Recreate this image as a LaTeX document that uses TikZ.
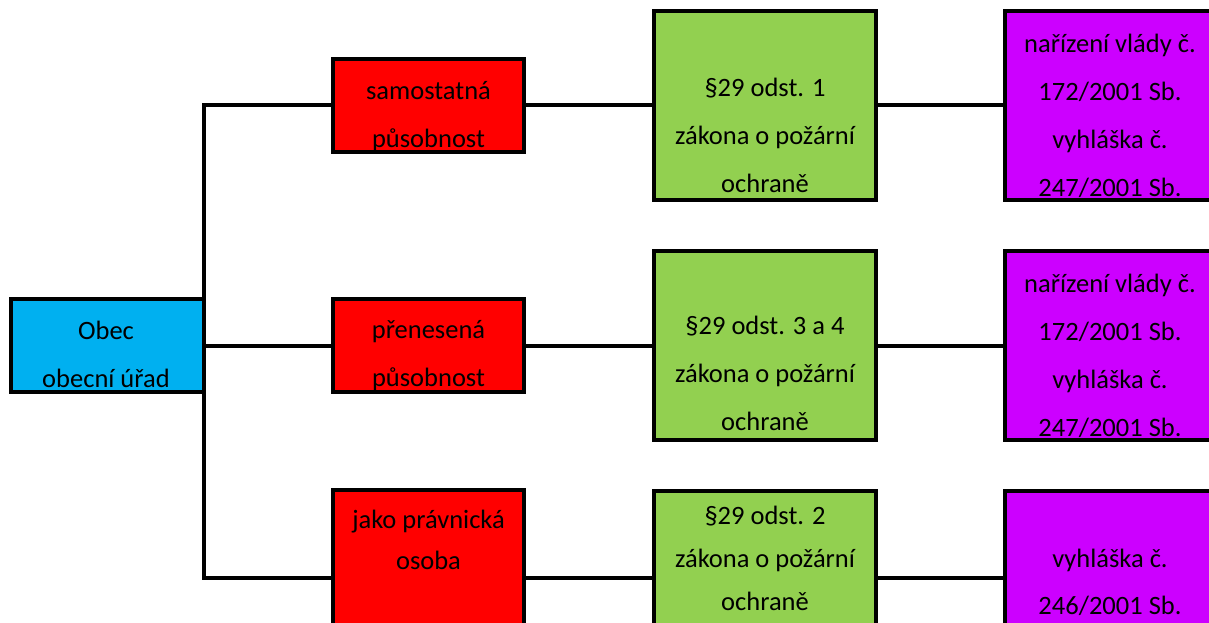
\documentclass[tikz,border=0pt]{standalone}
\usepackage{fontspec}
\setmainfont{Carlito}
\definecolor{cblue}{HTML}{00B0F0}
\definecolor{cred}{HTML}{FF0000}
\definecolor{cgreen}{HTML}{92D050}
\definecolor{cpurple}{HTML}{CC00FF}
\begin{document}
\begin{tikzpicture}[x=1pt,y=-1pt,
  box/.style={draw=black,line width=4pt,rectangle,inner sep=0pt,anchor=center},
  conn/.style={draw=black,line width=4pt,line join=miter},
  txt/.style={align=center,inner sep=0pt,anchor=center,font=\fontsize{26.5}{48}\selectfont}]
\useasboundingbox (0,0) rectangle (1209,623);
\clip (0,0) rectangle (1209,623);
\fill[white] (0,0) rectangle (1209,623);
% boxes
\node[box,fill=cblue,outer sep=0pt,minimum width=193pt,minimum height=93pt] (b) at (107.5,345.5) {};
\node[box,fill=cred,minimum width=191pt,minimum height=93pt] (r1) at (428.5,105.5) {};
\node[box,fill=cred,minimum width=191pt,minimum height=93pt] (r2) at (428.5,345.5) {};
\node[box,fill=cred,minimum width=191pt,minimum height=176pt] (r3) at (428.5,578) {};
\node[box,fill=cgreen,minimum width=222pt,minimum height=189pt] (g1) at (765,105.5) {};
\node[box,fill=cgreen,minimum width=222pt,minimum height=189pt] (g2) at (765,345.5) {};
\node[box,fill=cgreen,minimum width=222pt,minimum height=174pt] (g3) at (765,578) {};
\node[box,fill=cpurple,minimum width=245pt,minimum height=189pt] (p1) at (1127.5,105.5) {};
\node[box,fill=cpurple,minimum width=245pt,minimum height=189pt] (p2) at (1127.5,345.5) {};
\node[box,fill=cpurple,minimum width=245pt,minimum height=174pt] (p3) at (1127.5,578) {};
% connectors
\draw[conn] (b.east) -- (r2.west);
\draw[conn] (r1.west) -| (b.east);
\draw[conn] (r3.west) -| (b.east);
\draw[conn] (r1.east) -- (g1.west);
\draw[conn] (r2.east) -- (g2.west);
\draw[conn] (r3.east) -- (g3.west);
\draw[conn] (g1.east) -- (p1.west);
\draw[conn] (g2.east) -- (p2.west);
\draw[conn] (g3.east) -- (p3.west);
% texts
\node[txt] (tb) at (106,353.5) {\strut Obec\\\strut obecní úřad};
\node[txt] (tr1) at (428.5,113.5) {\strut samostatná\\\strut působnost};
\node[txt] (tr2) at (428.5,353) {\strut přenesená\\\strut působnost};
\node[txt,font=\fontsize{26.5}{41}\selectfont] (tr3) at (428.5,540.5) {\strut jako právnická\\\strut osoba};
\node[txt] (tg1) at (765,135.3) {\strut §29 odst. 1\\\strut zákona o požární\\\strut ochraně};
\node[txt] (tg2) at (765,372.7) {\strut §29 odst. 3 a 4\\\strut zákona o požární\\\strut ochraně};
\node[txt,font=\fontsize{26.5}{43}\selectfont] (tg3) at (765,559) {\strut §29 odst. 2\\\strut zákona o požární\\\strut ochraně};
\node[txt] (tp1) at (1110,115) {\strut nařízení vlády č.\\\strut 172/2001 Sb.\\\strut vyhláška č.\\\strut 247/2001 Sb.};
\node[txt] (tp2) at (1110,354.5) {\strut nařízení vlády č.\\\strut 172/2001 Sb.\\\strut vyhláška č.\\\strut 247/2001 Sb.};
\node[txt,font=\fontsize{26.5}{47}\selectfont] (tp3) at (1110,581.5) {\strut vyhláška č.\\\strut 246/2001 Sb.};
\end{tikzpicture}
\end{document}
